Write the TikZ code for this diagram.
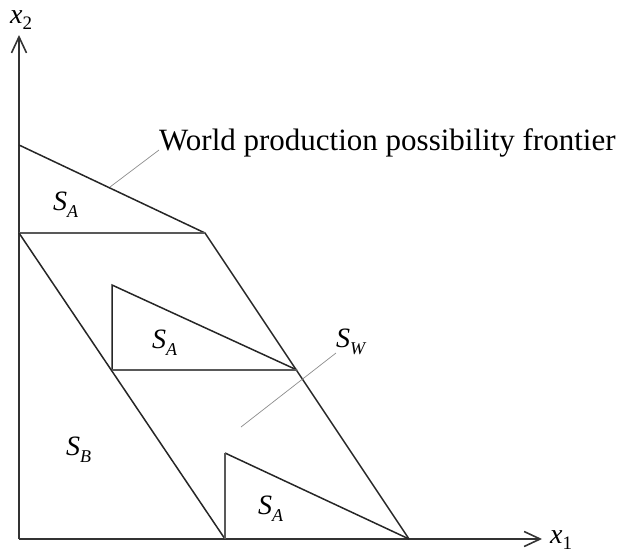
\documentclass[tikz,border=0pt]{standalone}
\usepackage{fontspec}
\setmainfont{Liberation Serif}
\usetikzlibrary{arrows.meta}
\newcommand{\lbl}[2]{\textit{#1}\raisebox{-7pt}{\fontsize{18}{18}\selectfont\textit{#2}}}
\newcommand{\axlbl}[2]{\textit{#1}\raisebox{-6pt}{\fontsize{19}{19}\selectfont #2}}

\begin{document}
\begin{tikzpicture}[x=1pt, y=-1pt,
  every node/.style={inner sep=0pt, font=\fontsize{28}{32}\selectfont},
  edge/.style={line width=1.5pt, black!85},
  flat/.style={line width=1.5pt, black!65},
  lead/.style={line width=0.7pt, black!45},
  axis/.style={line width=1.6pt, black!80, -{Straight Barb[length=16pt, width=15pt, line width=1.6pt]}},
]
\useasboundingbox (0,0) rectangle (635,555);
\coordinate (o)    at (19,539);
\coordinate (ytop) at (19,35);
\coordinate (xend) at (542,539);
\coordinate (p0) at (19,145);
\coordinate (p1) at (205,233);
\coordinate (p2) at (409,539);
\coordinate (q0) at (19,233);
\coordinate (q1) at (225,539);
\coordinate (t1) at (112,285);
\coordinate (t2) at (112,370);
\coordinate (t3) at (297,370);
\coordinate (u1) at (225,453);
\coordinate (u2) at (225,539);
\coordinate (l1)  at (110,187);
\coordinate (sw1) at (241,427);

\draw[axis] (o) -- (ytop);
\draw[axis] (o) -- (xend);
\draw[edge] (p0) -- (p1) -- (p2);
\draw[flat] (q0) -- (p1);
\draw[edge] (q0) -- (q1);
\draw[edge] (t2) -- (t1) -- (t3);
\draw[flat] (t2) -- (t3);
\draw[edge] (u1) -- (p2);
\draw[flat] (u1) -- (u2);

\node[anchor=base west] (x2) at (10,23)  {\axlbl{x}{2}};
\node[anchor=base west] (x1) at (550,543) {\axlbl{x}{1}};
\node[anchor=base west, font=\fontsize{31}{36}\selectfont] (wppf) at (159,150) {World production possibility frontier};
\node[anchor=base west] (sa1) at (53,210)  {\lbl{S}{A}};
\node[anchor=base west] (sa2) at (152,348) {\lbl{S}{A}};
\node[anchor=base west] (sa3) at (258,514) {\lbl{S}{A}};
\node[anchor=base west] (sb)  at (66,455)  {\lbl{S}{B}};
\node[anchor=base west] (sw)  at (336,347) {\lbl{S}{W}};

\draw[lead] (l1) -- (wppf.base west);
\draw[lead] (sw1) -- ([yshift=-6pt]sw.base west);
\end{tikzpicture}
\end{document}
